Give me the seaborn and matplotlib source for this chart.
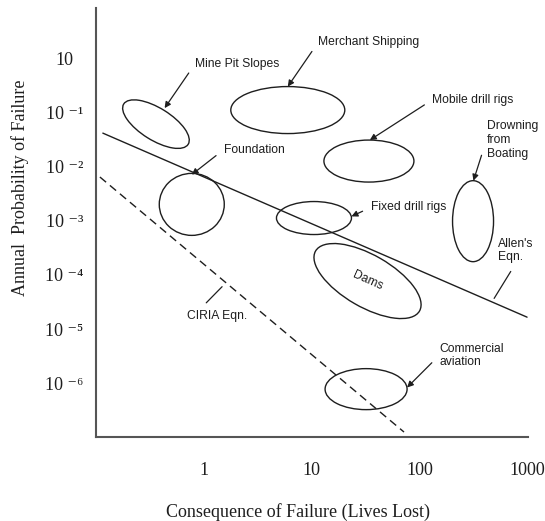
import numpy as np
import pandas as pd
import matplotlib
matplotlib.use("Agg")
import matplotlib.pyplot as plt
import matplotlib.transforms as mtransforms
from matplotlib.patches import Ellipse
from matplotlib.ticker import NullLocator
import seaborn as sns

# Risk envelopes: centre of each ellipse (lives lost, annual probability of failure)
activities = ["Mine Pit Slopes", "Merchant Shipping", "Foundation", "Mobile drill rigs",
              "Fixed drill rigs", "Drowning\nfrom\nBoating", "Dams", "Commercial\naviation"]
centre_lives = [0.358, 6.0, 0.77, 34.0, 10.5, 315.0, 33.0, 32.0]
centre_prob = [0.0605, 0.11, 2.0e-3, 0.0126, 1.12e-3, 9.8e-4, 7.7e-5, 7.8e-7]

# Acceptability lines (end points)
allen_lives = [0.115, 1000.0]
allen_prob = [0.0413, 1.66e-5]
ciria_lives = [0.108, 72.0]
ciria_prob = [6.4e-3, 1.26e-7]

x_ticks = [1, 10, 100, 1000]
x_tick_labels = ["1", "10", "100", "1000"]
y_ticks = [1, 1e-1, 1e-2, 1e-3, 1e-4, 1e-5, 1e-6]
y_tick_labels = ["10", "10 \u207b\u00b9", "10 \u207b\u00b2", "10 \u207b\u00b3",
                 "10 \u207b\u2074", "10 \u207b\u2075", "10 \u207b\u2076"]

sns.set_theme(style="white")
plt.rcParams["font.family"] = ["Liberation Serif", "DejaVu Serif"]

INK = "#1e1e1e"
SANS = ["Liberation Sans", "DejaVu Sans"]

fig = plt.figure(figsize=(5.45, 5.21), dpi=100)
ax = fig.add_axes([0.1761, 0.1612, 0.7927, 0.8234])
ax.set_xscale("log")
ax.set_yscale("log")
ax.set_xlim(0.0993, 1020)
ax.set_ylim(1.02e-7, 8.4)

lines = pd.DataFrame({
    "lives": allen_lives + ciria_lives,
    "prob": allen_prob + ciria_prob,
    "eqn": ["Allen"] * 2 + ["CIRIA"] * 2,
})
sns.lineplot(data=lines[lines.eqn == "Allen"], x="lives", y="prob", ax=ax,
             color=INK, lw=1.0, legend=False)
sns.lineplot(data=lines[lines.eqn == "CIRIA"], x="lives", y="prob", ax=ax,
             color=INK, lw=1.0, legend=False, linestyle=(0, (5.8, 3.6)))

# ellipse outline sizes in inches and their tilt in degrees
ell_w = [0.76, 1.14, 0.65, 0.90, 0.75, 0.41, 1.20, 0.82]
ell_h = [0.32, 0.47, 0.62, 0.42, 0.33, 0.81, 0.52, 0.41]
ell_angle = [-32, 0, 0, 0, 0, 0, -30, 0]

ellipses = {}
for name, cx, cy, w, h, a in zip(activities, centre_lives, centre_prob, ell_w, ell_h, ell_angle):
    trans = fig.dpi_scale_trans + mtransforms.ScaledTranslation(cx, cy, ax.transData)
    e = Ellipse((0, 0), w, h, angle=a, transform=trans, fill=False,
                edgecolor=INK, lw=1.0)
    ax.add_patch(e)
    ellipses[name] = e

# labels pointing at each envelope: (anchor fraction on ellipse, text offset in points)
arrow_specs = {
    "Mine Pit Slopes": ((0.63, 0.83), (22, 32)),
    "Merchant Shipping": ((0.5, 1.0), (22, 32)),
    "Foundation": ((0.5, 0.98), (23, 18)),
    "Mobile drill rigs": ((0.51, 1.0), (45, 29)),
    "Fixed drill rigs": ((1.0, 0.55), (14, 6.5)),
    "Drowning\nfrom\nBoating": ((0.51, 1.0), (9.4, 29.5)),
    "Commercial\naviation": ((1.0, 0.54), (23, 23)),
}
for name, (frac, off) in arrow_specs.items():
    ax.annotate(name, xy=frac, xycoords=ellipses[name], xytext=off,
                textcoords="offset points", ha="left", va="center",
                fontsize=8.7, family=SANS, color=INK, linespacing=1.2,
                arrowprops=dict(arrowstyle="-|>", color=INK, lw=0.9, shrinkA=4,
                                shrinkB=0, relpos=(0, 0.5), mutation_scale=9))

i_dams = activities.index("Dams")
ax.text(centre_lives[i_dams], centre_prob[i_dams], "Dams", rotation=-24,
        ha="center", va="center", rotation_mode="anchor",
        fontsize=8.7, family=SANS, color=INK)


def on_line(xs, ys, x):
    return 10 ** np.interp(np.log10(x), np.log10(xs), np.log10(ys))


allen_x = 472.0
ax.annotate("Allen's\nEqn.", xy=(allen_x, on_line(allen_lives, allen_prob, allen_x)),
            xytext=(4.3, 37), textcoords="offset points", ha="left", va="center",
            fontsize=8.7, family=SANS, color=INK, linespacing=1.2,
            arrowprops=dict(arrowstyle="-", color=INK, lw=0.9, shrinkA=4, shrinkB=3,
                            relpos=(0.5, 0)))

ciria_x = 1.6
ax.annotate("CIRIA Eqn.", xy=(ciria_x, on_line(ciria_lives, ciria_prob, ciria_x)),
            xytext=(-28, -24), textcoords="offset points", ha="left", va="center",
            fontsize=8.7, family=SANS, color=INK,
            arrowprops=dict(arrowstyle="-", color=INK, lw=0.9, shrinkA=4, shrinkB=4,
                            relpos=(0.2, 1)))

ax.set_xticks(x_ticks, x_tick_labels)
ax.set_yticks(y_ticks, y_tick_labels)
ax.xaxis.set_minor_locator(NullLocator())
ax.yaxis.set_minor_locator(NullLocator())
ax.tick_params(axis="both", length=0, labelsize=13, colors=INK)
ax.tick_params(axis="x", pad=18)
ax.tick_params(axis="y", pad=22.7)
for lbl in ax.get_yticklabels():
    lbl.set_ha("center")

ax.set_xlabel("Consequence of Failure (Lives Lost)", fontsize=13, color=INK, va="center")
ax.set_ylabel("Annual  Probability of Failure", fontsize=13, color=INK, va="center")
ax.xaxis.set_label_coords(0.468, -0.175)
ax.yaxis.set_label_coords(-0.176, 0.580)

for side in ("top", "right"):
    ax.spines[side].set_visible(False)
for side in ("left", "bottom"):
    ax.spines[side].set_color("#555555")
    ax.spines[side].set_linewidth(1.5)

fig.savefig("out.png", dpi=100)
